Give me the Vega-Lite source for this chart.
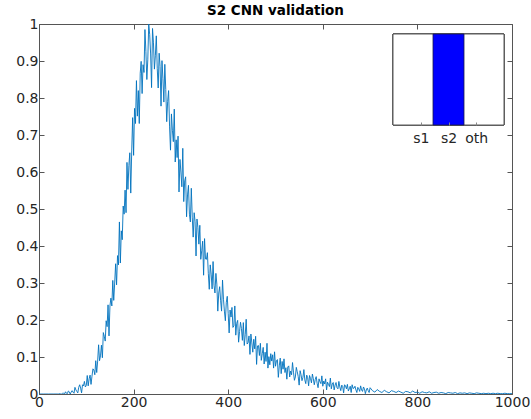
{
  "$schema": "https://vega.github.io/schema/vega-lite/v6.json",
  "width": 473,
  "height": 370,
  "autosize": {"type": "none"},
  "padding": {"left": 39, "top": 24, "right": 19, "bottom": 25},
  "background": "white",
  "config": {"view": {"stroke": "#555", "strokeWidth": 1}},
  "title": {"text": "S2 CNN validation", "font": "DejaVu Sans", "fontSize": 13.5, "fontWeight": "bold", "color": "#000", "frame": "group", "anchor": "middle", "offset": 0},
  "datasets": {
    "curve": [
      {"x":0,"y":0},{"x":10,"y":0},{"x":20,"y":0},{"x":30,"y":0},{"x":40,"y":0},{"x":42,"y":0},{"x":44,"y":0.001},{"x":46,"y":0},{"x":48,"y":0},
      {"x":50,"y":0.002},{"x":52,"y":0.002},{"x":54,"y":0},{"x":56,"y":0.006},{"x":58,"y":0.002},
      {"x":60,"y":0.001},{"x":62,"y":0.008},{"x":64,"y":0.006},{"x":66,"y":0},{"x":68,"y":0.005},
      {"x":70,"y":0.009},{"x":72,"y":0.005},{"x":74,"y":0.002},{"x":76,"y":0.018},{"x":78,"y":0.011},
      {"x":80,"y":0.007},{"x":82,"y":0.003},{"x":84,"y":0.018},{"x":86,"y":0.025},{"x":88,"y":0.016},
      {"x":90,"y":0.003},{"x":92,"y":0.025},{"x":94,"y":0.022},{"x":96,"y":0.034},{"x":98,"y":0.019},
      {"x":100,"y":0.023},{"x":102,"y":0.050},{"x":104,"y":0.022},{"x":106,"y":0.041},{"x":108,"y":0.051},
      {"x":110,"y":0.026},{"x":112,"y":0.048},{"x":114,"y":0.068},{"x":116,"y":0.065},{"x":118,"y":0.052},
      {"x":120,"y":0.090},{"x":122,"y":0.058},{"x":124,"y":0.089},{"x":126,"y":0.133},{"x":128,"y":0.090},
      {"x":130,"y":0.103},{"x":132,"y":0.132},{"x":134,"y":0.098},{"x":136,"y":0.166},{"x":138,"y":0.156},
      {"x":140,"y":0.143},{"x":142,"y":0.198},{"x":144,"y":0.182},{"x":146,"y":0.241},{"x":148,"y":0.157},
      {"x":150,"y":0.238},{"x":152,"y":0.259},{"x":154,"y":0.238},{"x":156,"y":0.307},{"x":158,"y":0.253},
      {"x":160,"y":0.300},{"x":162,"y":0.352},{"x":164,"y":0.295},{"x":166,"y":0.374},{"x":168,"y":0.349},
      {"x":170,"y":0.465},{"x":172,"y":0.354},{"x":174,"y":0.441},{"x":176,"y":0.417},{"x":178,"y":0.508},
      {"x":180,"y":0.486},{"x":182,"y":0.551},{"x":184,"y":0.490},{"x":186,"y":0.626},{"x":188,"y":0.553},
      {"x":190,"y":0.617},{"x":192,"y":0.652},{"x":194,"y":0.543},{"x":196,"y":0.657},{"x":198,"y":0.747},
      {"x":200,"y":0.645},{"x":202,"y":0.772},{"x":204,"y":0.731},{"x":206,"y":0.847},{"x":208,"y":0.751},
      {"x":210,"y":0.820},{"x":212,"y":0.731},{"x":214,"y":0.867},{"x":216,"y":0.899},{"x":218,"y":0.812},
      {"x":220,"y":0.890},{"x":222,"y":0.869},{"x":224,"y":0.985},{"x":226,"y":0.925},{"x":228,"y":0.850},
      {"x":230,"y":0.903},{"x":232,"y":1.0},{"x":234,"y":0.972},{"x":236,"y":0.919},{"x":238,"y":0.828},
      {"x":240,"y":0.988},{"x":242,"y":0.949},{"x":244,"y":0.878},{"x":246,"y":0.914},{"x":248,"y":0.968},
      {"x":250,"y":0.879},{"x":252,"y":0.827},{"x":254,"y":0.921},{"x":256,"y":0.885},{"x":258,"y":0.778},
      {"x":260,"y":0.901},{"x":262,"y":0.852},{"x":264,"y":0.789},{"x":266,"y":0.891},{"x":268,"y":0.823},
      {"x":270,"y":0.736},{"x":272,"y":0.791},{"x":274,"y":0.820},{"x":276,"y":0.724},{"x":278,"y":0.659},
      {"x":280,"y":0.757},{"x":282,"y":0.713},{"x":284,"y":0.682},{"x":286,"y":0.770},{"x":288,"y":0.627},
      {"x":290,"y":0.687},{"x":292,"y":0.639},{"x":294,"y":0.697},{"x":296,"y":0.546},{"x":298,"y":0.634},
      {"x":300,"y":0.600},{"x":302,"y":0.560},{"x":304,"y":0.664},{"x":306,"y":0.520},{"x":308,"y":0.576},
      {"x":310,"y":0.587},{"x":312,"y":0.479},{"x":314,"y":0.538},{"x":316,"y":0.564},{"x":318,"y":0.486},
      {"x":320,"y":0.465},{"x":322,"y":0.556},{"x":324,"y":0.478},{"x":326,"y":0.424},{"x":328,"y":0.490},
      {"x":330,"y":0.466},{"x":332,"y":0.373},{"x":334,"y":0.473},{"x":336,"y":0.450},{"x":338,"y":0.405},
      {"x":340,"y":0.456},{"x":342,"y":0.364},{"x":344,"y":0.387},{"x":346,"y":0.413},{"x":348,"y":0.321},
      {"x":350,"y":0.420},{"x":352,"y":0.365},{"x":354,"y":0.364},{"x":356,"y":0.382},{"x":358,"y":0.325},
      {"x":360,"y":0.283},{"x":362,"y":0.349},{"x":364,"y":0.324},{"x":366,"y":0.284},{"x":368,"y":0.358},
      {"x":370,"y":0.294},{"x":372,"y":0.273},{"x":374,"y":0.326},{"x":376,"y":0.297},{"x":378,"y":0.224},
      {"x":380,"y":0.273},{"x":382,"y":0.290},{"x":384,"y":0.252},{"x":386,"y":0.224},{"x":388,"y":0.308},
      {"x":390,"y":0.256},{"x":392,"y":0.224},{"x":394,"y":0.198},{"x":396,"y":0.248},{"x":398,"y":0.264},
      {"x":400,"y":0.217},{"x":402,"y":0.165},{"x":404,"y":0.227},{"x":406,"y":0.208},{"x":408,"y":0.234},
      {"x":410,"y":0.180},{"x":412,"y":0.184},{"x":414,"y":0.238},{"x":416,"y":0.159},{"x":418,"y":0.191},
      {"x":420,"y":0.199},{"x":422,"y":0.140},{"x":424,"y":0.169},{"x":426,"y":0.194},{"x":428,"y":0.177},
      {"x":430,"y":0.145},{"x":432,"y":0.193},{"x":434,"y":0.131},{"x":436,"y":0.160},{"x":438,"y":0.202},
      {"x":440,"y":0.135},{"x":442,"y":0.139},{"x":444,"y":0.157},{"x":446,"y":0.107},{"x":448,"y":0.162},
      {"x":450,"y":0.138},{"x":452,"y":0.113},{"x":454,"y":0.148},{"x":456,"y":0.122},{"x":458,"y":0.156},
      {"x":460,"y":0.080},{"x":462,"y":0.130},{"x":464,"y":0.131},{"x":466,"y":0.104},{"x":468,"y":0.137},
      {"x":470,"y":0.091},{"x":472,"y":0.109},{"x":474,"y":0.126},{"x":476,"y":0.081},{"x":478,"y":0.113},
      {"x":480,"y":0.088},{"x":482,"y":0.137},{"x":484,"y":0.070},{"x":486,"y":0.101},{"x":488,"y":0.079},
      {"x":490,"y":0.109},{"x":492,"y":0.089},{"x":494,"y":0.106},{"x":496,"y":0.070},{"x":498,"y":0.114},
      {"x":500,"y":0.075},{"x":502,"y":0.090},{"x":504,"y":0.093},{"x":506,"y":0.045},{"x":508,"y":0.076},
      {"x":510,"y":0.097},{"x":512,"y":0.055},{"x":514,"y":0.088},{"x":516,"y":0.067},{"x":518,"y":0.095},
      {"x":520,"y":0.058},{"x":522,"y":0.071},{"x":524,"y":0.040},{"x":526,"y":0.073},{"x":528,"y":0.076},
      {"x":530,"y":0.046},{"x":532,"y":0.062},{"x":534,"y":0.052},{"x":536,"y":0.085},{"x":538,"y":0.059},
      {"x":540,"y":0.037},{"x":542,"y":0.046},{"x":544,"y":0.072},{"x":546,"y":0.060},{"x":548,"y":0.047},
      {"x":550,"y":0.024},{"x":552,"y":0.063},{"x":554,"y":0.052},{"x":556,"y":0.036},{"x":558,"y":0.045},
      {"x":560,"y":0.066},{"x":562,"y":0.038},{"x":564,"y":0.028},{"x":566,"y":0.051},{"x":568,"y":0.044},
      {"x":570,"y":0.022},{"x":572,"y":0.050},{"x":574,"y":0.042},{"x":576,"y":0.030},{"x":578,"y":0.054},
      {"x":580,"y":0.041},{"x":582,"y":0.025},{"x":584,"y":0.039},{"x":586,"y":0.047},{"x":588,"y":0.029},
      {"x":590,"y":0.017},{"x":592,"y":0.041},{"x":594,"y":0.033},{"x":596,"y":0.028},{"x":598,"y":0.049},
      {"x":600,"y":0.021},{"x":602,"y":0.035},{"x":604,"y":0.027},{"x":606,"y":0.041},{"x":608,"y":0.011},
      {"x":610,"y":0.032},{"x":612,"y":0.026},{"x":614,"y":0.020},{"x":616,"y":0.043},{"x":618,"y":0.014},
      {"x":620,"y":0.027},{"x":622,"y":0.031},{"x":624,"y":0.011},{"x":626,"y":0.024},{"x":628,"y":0.031},
      {"x":630,"y":0.017},{"x":632,"y":0.014},{"x":634,"y":0.034},{"x":636,"y":0.019},{"x":638,"y":0.009},
      {"x":640,"y":0.024},{"x":642,"y":0.021},{"x":644,"y":0.003},{"x":646,"y":0.025},{"x":648,"y":0.022},
      {"x":650,"y":0.014},{"x":652,"y":0.026},{"x":654,"y":0.008},{"x":656,"y":0.014},{"x":658,"y":0.021},
      {"x":660,"y":0.004},{"x":662,"y":0.025},{"x":664,"y":0.015},{"x":666,"y":0.016},{"x":668,"y":0.021},
      {"x":670,"y":0.011},{"x":672,"y":0.004},{"x":674,"y":0.018},{"x":676,"y":0.014},{"x":678,"y":0.007},
      {"x":680,"y":0.022},{"x":682,"y":0.011},{"x":684,"y":0.007},{"x":686,"y":0.019},{"x":688,"y":0.014},
      {"x":690,"y":0.001},{"x":692,"y":0.011},{"x":694,"y":0.016},{"x":696,"y":0.009},{"x":698,"y":0.004},
      {"x":700,"y":0.017},{"x":705,"y":0.009},{"x":710,"y":0.005},{"x":715,"y":0.012},{"x":720,"y":0.007},
      {"x":725,"y":0.004},{"x":730,"y":0.010},{"x":735,"y":0.006},{"x":740,"y":0.003},{"x":745,"y":0.009},
      {"x":750,"y":0.007},{"x":755,"y":0.004},{"x":760,"y":0.008},{"x":765,"y":0.005},{"x":770,"y":0.002},
      {"x":775,"y":0.007},{"x":780,"y":0.006},{"x":785,"y":0.003},{"x":790,"y":0.008},{"x":795,"y":0.004},
      {"x":800,"y":0.005},{"x":805,"y":0.002},{"x":810,"y":0.006},{"x":815,"y":0.004},{"x":820,"y":0.003},
      {"x":825,"y":0.006},{"x":830,"y":0.002},{"x":835,"y":0.004},{"x":840,"y":0.005},{"x":845,"y":0.002},
      {"x":850,"y":0.004},{"x":855,"y":0.003},{"x":860,"y":0.001},{"x":865,"y":0.004},{"x":870,"y":0.003},
      {"x":875,"y":0.002},{"x":880,"y":0.004},{"x":885,"y":0.001},{"x":890,"y":0.003},{"x":895,"y":0.002},
      {"x":900,"y":0.003},{"x":905,"y":0.001},{"x":910,"y":0.003},{"x":915,"y":0.002},{"x":920,"y":0.001},
      {"x":925,"y":0.003},{"x":930,"y":0.002},{"x":935,"y":0.001},{"x":940,"y":0.002},{"x":945,"y":0.001},
      {"x":950,"y":0.002},{"x":955,"y":0.001},{"x":960,"y":0.002},{"x":965,"y":0.001},{"x":970,"y":0.002},
      {"x":975,"y":0.001},{"x":980,"y":0.001},{"x":985,"y":0.002},{"x":990,"y":0.001},{"x":995,"y":0.001},
      {"x":1000,"y":0.001}
    ],
    "inset": [
      {"pos": 1, "cat": "s1", "v": 0},
      {"pos": 2, "cat": "s2", "v": 1},
      {"pos": 3, "cat": "oth", "v": 0}
    ]
  },
  "layer": [
    {
      "data": {"name": "curve"},
      "layer": [
        {
          "mark": {"type": "line", "color": "#0072BD", "strokeWidth": 0.9, "clip": true},
          "encoding": {
            "x": {"field": "x", "type": "quantitative", "scale": {"domain": [0, 1000], "nice": false},
              "axis": {"orient": "bottom", "title": null, "values": [0, 200, 400, 600, 800, 1000], "format": "d", "grid": false, "domain": false,
                "tickSize": -5, "tickColor": "#555", "labelFont": "DejaVu Sans", "labelFontSize": 14, "labelColor": "#262626", "labelPadding": 6, "labelFlush": false}},
            "y": {"field": "y", "type": "quantitative", "scale": {"domain": [0, 1], "nice": false},
              "axis": {"orient": "left", "title": null, "values": [0, 0.1, 0.2, 0.3, 0.4, 0.5, 0.6, 0.7, 0.8, 0.9, 1], "format": "~g", "grid": false, "domain": false,
                "tickSize": -5, "tickColor": "#555", "labelFont": "DejaVu Sans", "labelFontSize": 14, "labelColor": "#262626", "labelPadding": 6, "labelFlush": false}}
          }
        },
        {
          "mark": {"type": "line", "opacity": 0},
          "encoding": {
            "x": {"field": "x", "type": "quantitative", "scale": {"domain": [0, 1000], "nice": false},
              "axis": {"orient": "top", "title": null, "labels": false, "values": [0, 200, 400, 600, 800, 1000], "grid": false, "domain": false, "tickSize": -5, "tickColor": "#555"}},
            "y": {"field": "y", "type": "quantitative", "scale": {"domain": [0, 1], "nice": false},
              "axis": {"orient": "right", "title": null, "labels": false, "values": [0, 0.1, 0.2, 0.3, 0.4, 0.5, 0.6, 0.7, 0.8, 0.9, 1], "grid": false, "domain": false, "tickSize": -5, "tickColor": "#555"}}
          }
        }
      ],
      "resolve": {"axis": {"x": "independent", "y": "independent"}}
    },
    {
      "data": {"name": "inset"},
      "layer": [
        {
          "mark": {"type": "rect", "fill": "white", "stroke": "#333", "strokeWidth": 0.8},
          "encoding": {
            "x": {"datum": 0, "type": "quantitative", "scale": {"domain": [0, 4], "range": [349, 470], "nice": false, "zero": false},
              "axis": {"orient": "bottom", "offset": -269, "title": null, "values": [1, 2, 3], "labelExpr": "datum.value == 1 ? 's1' : datum.value == 2 ? 's2' : 'oth'", "grid": false, "domain": false,
                "tickSize": -3, "tickColor": "#888", "labelFont": "DejaVu Sans", "labelFontSize": 14, "labelColor": "#262626", "labelPadding": 9, "labelFlush": false, "zindex": 2}},
            "x2": {"datum": 4},
            "y": {"datum": 0, "type": "quantitative", "scale": {"domain": [0, 1], "range": [101, 10], "nice": false}, "axis": null},
            "y2": {"datum": 1}
          }
        },
        {
          "transform": [{"filter": "datum.v > 0"}],
          "mark": {"type": "bar", "color": "#0000FF", "stroke": "#1a1a4a", "strokeWidth": 0.8, "width": 31},
          "encoding": {
            "x": {"field": "pos", "type": "quantitative",
              "axis": {"orient": "bottom", "offset": -269, "title": null, "values": [1, 2, 3], "labelExpr": "datum.value == 1 ? 's1' : datum.value == 2 ? 's2' : 'oth'", "grid": false, "domain": false,
                "tickSize": -3, "tickColor": "#888", "labelFont": "DejaVu Sans", "labelFontSize": 14, "labelColor": "#262626", "labelPadding": 9, "labelFlush": false, "zindex": 2}},
            "y": {"field": "v", "type": "quantitative", "axis": null}
          }
        }
      ]
    }
  ],
  "resolve": {"scale": {"x": "independent", "y": "independent"}, "axis": {"x": "independent", "y": "independent"}}
}
